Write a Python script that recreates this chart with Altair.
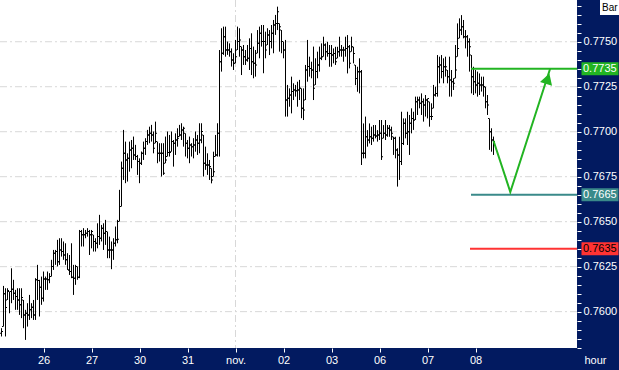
import altair as alt
import pandas as pd

# ---------------- hourly OHLC bars ----------------
HIGH = [
    0.75908, 0.76143, 0.7613, 0.7613, 0.76112, 0.76241, 0.76177, 0.76121, 0.7613, 0.7613,
    0.7613, 0.76065, 0.7601, 0.76047, 0.76093, 0.76047, 0.76065, 0.76186, 0.7626, 0.76177,
    0.76195, 0.76223, 0.76195, 0.76223, 0.76214, 0.76288, 0.76343, 0.76343, 0.76399, 0.76408,
    0.76408, 0.7639, 0.7638, 0.76325, 0.76315, 0.7638, 0.7626, 0.7626, 0.76251, 0.76454,
    0.76454, 0.76464, 0.76454, 0.76464, 0.76454, 0.76454, 0.76427, 0.76408, 0.76491, 0.76538,
    0.76482, 0.76491, 0.7651, 0.76445, 0.76417, 0.7639, 0.76408, 0.76473, 0.7651, 0.76677,
    0.76834, 0.7701, 0.76945, 0.7688, 0.76945, 0.76954, 0.76973, 0.76927, 0.76871, 0.76852,
    0.7689, 0.76945, 0.76964, 0.7701, 0.77028, 0.77038, 0.77001, 0.77056, 0.76945, 0.76936,
    0.76936,
    0.76936, 0.76973, 0.77001, 0.76982, 0.77001, 0.76954, 0.76991, 0.77019, 0.77038, 0.77047,
    0.77028, 0.76991, 0.76954, 0.76973, 0.76936, 0.76964, 0.77001, 0.76982, 0.77047, 0.77047,
    0.76982, 0.76917, 0.7688, 0.76843, 0.76797, 0.76889, 0.76982, 0.77047, 0.77454, 0.77575,
    0.77584, 0.77584, 0.77501, 0.77491, 0.77463, 0.77436, 0.7751, 0.77584, 0.77575,
    0.77473, 0.77482, 0.77454, 0.77482, 0.77519, 0.77547, 0.77473, 0.77454, 0.77565, 0.77584,
    0.77593, 0.77593, 0.77556, 0.77575, 0.77565, 0.77593, 0.77621, 0.77649, 0.77695, 0.77602,
    0.77565, 0.77501, 0.7751, 0.7726, 0.77241, 0.77306, 0.77269, 0.7726, 0.77278, 0.77288,
    0.77241, 0.77241, 0.77371, 0.7751, 0.77417, 0.77389, 0.77473, 0.77408, 0.77445, 0.77473,
    0.77491, 0.77528, 0.77491, 0.775, 0.77482, 0.77482, 0.77463, 0.77472, 0.77472, 0.77528,
    0.77482, 0.77472, 0.77528, 0.77537, 0.77482, 0.77528, 0.77472, 0.77371, 0.77361, 0.77408,
    0.77343, 0.77046, 0.77084, 0.77009, 0.77046, 0.77028, 0.77037, 0.77037, 0.77009, 0.77065,
    0.77065, 0.77037, 0.77065, 0.77037, 0.77037, 0.77028, 0.76972, 0.76972, 0.76908, 0.76972,
    0.77111, 0.77074, 0.77074, 0.77111, 0.77093, 0.7713, 0.77111, 0.77195, 0.77195, 0.77195,
    0.77213, 0.77185, 0.77204, 0.77185, 0.77167, 0.77158, 0.7726, 0.7725, 0.77426, 0.77417,
    0.77426, 0.77408, 0.77417, 0.77343, 0.77417, 0.77343, 0.77297, 0.77482, 0.77602, 0.7763,
    0.77648, 0.77621, 0.77565, 0.77537, 0.77519, 0.77426, 0.77361, 0.77343, 0.77334, 0.77324,
    0.77306, 0.77306, 0.7725, 0.77204, 0.77074, 0.77019, 0.76973,
]
LOW = [
    0.75862, 0.75917, 0.75862, 0.76065, 0.75991, 0.76047, 0.76065, 0.7601, 0.7601, 0.75982,
    0.75964, 0.75908, 0.75843, 0.75917, 0.75954, 0.75964, 0.75954, 0.75954, 0.76065, 0.75973,
    0.76038, 0.76056, 0.76121, 0.76121, 0.76158, 0.76195, 0.76232, 0.7626, 0.76251, 0.7626,
    0.76306, 0.76288, 0.7626, 0.76232, 0.76204, 0.76186, 0.76093, 0.76149, 0.76177, 0.76186,
    0.76362, 0.76362, 0.76408, 0.76417, 0.76315, 0.76352, 0.76334, 0.76334, 0.76352, 0.76371,
    0.7639, 0.76343, 0.76371, 0.76297, 0.76297, 0.76236, 0.76288, 0.76362, 0.7638, 0.76501,
    0.76584, 0.76732, 0.76714, 0.76723, 0.76778, 0.76797, 0.76843, 0.76843, 0.7676, 0.76714,
    0.76815, 0.76843, 0.76871, 0.76927, 0.76936, 0.76945, 0.7688, 0.76936, 0.76825, 0.76834,
    0.76751,
    0.7676, 0.76825, 0.76862, 0.76862, 0.76889, 0.76806, 0.76871, 0.76917, 0.76973, 0.76954,
    0.76917, 0.76862, 0.76852, 0.76825, 0.76862, 0.76852, 0.76889, 0.76871, 0.7688, 0.76936,
    0.76751, 0.76788, 0.7676, 0.76732, 0.76713, 0.76751, 0.76862, 0.76862, 0.76862, 0.77334,
    0.77427, 0.77417, 0.77427, 0.77417, 0.77362, 0.77343, 0.7738, 0.77454, 0.77417,
    0.77315, 0.77371, 0.77371, 0.77389, 0.77343, 0.77315, 0.77297, 0.77306, 0.77436, 0.77408,
    0.77473, 0.77325, 0.77408, 0.77482, 0.77426, 0.77463, 0.77436, 0.77538, 0.77565, 0.77445,
    0.77436, 0.77408, 0.77084, 0.77084, 0.77139, 0.77102, 0.77176, 0.77195, 0.77139, 0.77176,
    0.77075, 0.77065, 0.77176, 0.77278, 0.77306, 0.77297, 0.77176, 0.7726, 0.77297, 0.77334,
    0.77398, 0.77417, 0.77398, 0.77417, 0.77361, 0.77361, 0.7738, 0.77371, 0.77408, 0.77417,
    0.77417, 0.77389, 0.77417, 0.77324, 0.77352, 0.77445, 0.7738, 0.77259, 0.77222, 0.77213,
    0.76815, 0.76852, 0.76852, 0.76917, 0.76935, 0.76926, 0.76945, 0.76963, 0.76945, 0.76954,
    0.76843, 0.76963, 0.76954, 0.76972, 0.76972, 0.76954, 0.76871, 0.76852, 0.76695, 0.76732,
    0.76815, 0.76926, 0.76963, 0.76926, 0.76871, 0.76991, 0.7701, 0.77065, 0.77093, 0.7713,
    0.77093, 0.77056, 0.77084, 0.77074, 0.77028, 0.77065, 0.7713, 0.77195, 0.77195, 0.77269,
    0.77297, 0.77269, 0.77306, 0.77269, 0.77195, 0.77195, 0.77232, 0.77297, 0.77417, 0.77519,
    0.77537, 0.77519, 0.77463, 0.77417, 0.77334, 0.77213, 0.77204, 0.77213, 0.77195, 0.77204,
    0.77223, 0.77195, 0.7713, 0.77093, 0.76899, 0.76889, 0.76871,
]
OPEN = [
    0.7588, 0.75917, 0.76099, 0.76065, 0.76112, 0.76112, 0.76125, 0.76102, 0.76084, 0.76065,
    0.76038, 0.76065, 0.75982, 0.75991, 0.75982, 0.7601, 0.76025, 0.75982, 0.76177, 0.76173,
    0.76136, 0.76075, 0.76182, 0.76182, 0.76177, 0.76195, 0.76251, 0.76325, 0.76334, 0.76278,
    0.76343, 0.76334, 0.76315, 0.76288, 0.76232, 0.76223, 0.76191, 0.76186, 0.76251, 0.76191,
    0.76445, 0.76427, 0.76427, 0.76436, 0.76445, 0.76427, 0.76427, 0.7639, 0.7638, 0.76417,
    0.76408, 0.76464, 0.76436, 0.76445, 0.76343, 0.76343, 0.76343, 0.7638, 0.76399, 0.76501,
    0.76584, 0.76797, 0.7688, 0.76843, 0.76852, 0.76899, 0.76908, 0.76871, 0.76862, 0.76834,
    0.76825, 0.7688, 0.76908, 0.76945, 0.76982, 0.76991, 0.76982, 0.76936, 0.76945, 0.7688,
    0.7688,
    0.7688, 0.76825, 0.76862, 0.76884, 0.76889, 0.76945, 0.76936, 0.76954, 0.76973, 0.76982,
    0.7701, 0.76991, 0.76936, 0.76908, 0.76926, 0.76917, 0.76926, 0.76954, 0.76936, 0.76954,
    0.76982, 0.76825, 0.76815, 0.76815, 0.76797, 0.76751, 0.76862, 0.76871, 0.76991, 0.77389,
    0.77436, 0.77528, 0.77454, 0.77454, 0.77445, 0.77399, 0.7738, 0.77454, 0.77501,
    0.77473, 0.77454, 0.77417, 0.77399, 0.77408, 0.77463, 0.77389, 0.7738, 0.77436, 0.77491,
    0.77547, 0.77501, 0.77501, 0.77482, 0.77538, 0.77501, 0.77547, 0.77593, 0.77602, 0.77602,
    0.77565, 0.77501, 0.77454, 0.77176, 0.77186, 0.77204, 0.77223, 0.77232, 0.77228, 0.77232,
    0.77241, 0.7713, 0.77176, 0.77343, 0.77362, 0.77352, 0.77343, 0.7726, 0.77334, 0.77371,
    0.77408, 0.77417, 0.77482, 0.77445, 0.77435, 0.77435, 0.77426, 0.77435, 0.77408, 0.77445,
    0.77454, 0.77454, 0.77454, 0.77463, 0.77472, 0.77445, 0.77472, 0.77371, 0.77296, 0.77333,
    0.77333, 0.7688, 0.7688, 0.76972, 0.76954, 0.76972, 0.76963, 0.76982, 0.76976, 0.76982,
    0.76991, 0.76963, 0.76991, 0.76982, 0.77019, 0.77009, 0.76972, 0.76963, 0.76898, 0.76871,
    0.76834, 0.76935, 0.77047, 0.76991, 0.77, 0.77047, 0.77074, 0.77065, 0.77167, 0.77176,
    0.77158, 0.77167, 0.77148, 0.77176, 0.77167, 0.77084, 0.7713, 0.77204, 0.77213, 0.77361,
    0.77371, 0.77334, 0.77361, 0.77343, 0.77306, 0.77287, 0.77278, 0.77297, 0.77417, 0.77519,
    0.77565, 0.77584, 0.77528, 0.77528, 0.775, 0.77426, 0.77306, 0.77278, 0.7726, 0.77269,
    0.7726, 0.7726, 0.7725, 0.77167, 0.77074, 0.77, 0.76954,
]
CLOSE = [
    0.7589, 0.76099, 0.76023, 0.76117, 0.76112, 0.76125, 0.76102, 0.76084, 0.76065, 0.76038,
    0.76078, 0.75982, 0.75991, 0.75982, 0.7601, 0.76025, 0.75982, 0.76177, 0.76173, 0.76136,
    0.76075, 0.76182, 0.76182, 0.76177, 0.76195, 0.76251, 0.76325, 0.76334, 0.76278, 0.76343,
    0.76334, 0.76315, 0.76288, 0.76232, 0.76223, 0.76191, 0.76186, 0.76251, 0.76191, 0.76445,
    0.76427, 0.76427, 0.76436, 0.76445, 0.76427, 0.76445, 0.7639, 0.7638, 0.76417, 0.76408,
    0.76464, 0.76436, 0.76445, 0.76343, 0.76343, 0.76343, 0.7638, 0.76399, 0.76402, 0.76584,
    0.76797, 0.7688, 0.76843, 0.76852, 0.76899, 0.76908, 0.76871, 0.76862, 0.76834, 0.76825,
    0.7688, 0.76908, 0.76945, 0.76982, 0.76991, 0.76982, 0.76908, 0.76991, 0.7688, 0.7688,
    0.7688,
    0.76769, 0.76843, 0.76884, 0.76884, 0.76945, 0.76936, 0.76954, 0.76963, 0.76982, 0.7701,
    0.77019, 0.76936, 0.76908, 0.76926, 0.76917, 0.76926, 0.76954, 0.76936, 0.76954, 0.77001,
    0.76825, 0.76815, 0.76815, 0.76806, 0.76732, 0.76778, 0.76871, 0.76991, 0.77389, 0.77436,
    0.77528, 0.77454, 0.77454, 0.77445, 0.77399, 0.7738, 0.77417, 0.77501, 0.7751,
    0.77454, 0.77417, 0.77399, 0.77408, 0.77463, 0.77389, 0.7738, 0.77371, 0.77491, 0.77547,
    0.77501, 0.77501, 0.77454, 0.77538, 0.77501, 0.77547, 0.77593, 0.77602, 0.77667, 0.77584,
    0.77501, 0.77454, 0.77176, 0.77186, 0.77204, 0.77223, 0.77232, 0.77228, 0.77232, 0.77241,
    0.7713, 0.77121, 0.77343, 0.77362, 0.77352, 0.77343, 0.77241, 0.77334, 0.77371, 0.77408,
    0.77417, 0.77482, 0.77445, 0.77435, 0.77435, 0.77426, 0.77435, 0.77389, 0.77445, 0.77454,
    0.77454, 0.77454, 0.77463, 0.77472, 0.7738, 0.77472, 0.77435, 0.77296, 0.77333, 0.77333,
    0.7688, 0.7688, 0.76972, 0.76954, 0.76972, 0.76963, 0.76982, 0.76976, 0.76982, 0.76991,
    0.76861, 0.76991, 0.76982, 0.77019, 0.77009, 0.76991, 0.76963, 0.76898, 0.76871, 0.76834,
    0.76935, 0.77047, 0.76991, 0.77, 0.77047, 0.77074, 0.77065, 0.77167, 0.77176, 0.77158,
    0.77167, 0.77148, 0.77176, 0.77185, 0.77084, 0.77084, 0.77204, 0.77213, 0.77361, 0.77371,
    0.77334, 0.77361, 0.77361, 0.77306, 0.77287, 0.77278, 0.77269, 0.77343, 0.77463, 0.77565,
    0.77584, 0.77528, 0.77528, 0.775, 0.77472, 0.77306, 0.77278, 0.7726, 0.77269, 0.7726,
    0.7726, 0.7725, 0.77167, 0.77148, 0.77, 0.76954, 0.76945,
]
assert len(HIGH) == len(LOW) == len(OPEN) == len(CLOSE)

# ---------------- axis ticks / labels ----------------
DAY_TICKS = [21, 45, 69, 93, 117, 141, 165, 189, 213, 237]   # hour index of each day start
DAY_LABELS = ["26", "27", "30", "31", "nov.", "02", "03", "06", "07", "08"]
MONTH_LINE = [117]
Y_LABELS = [0.7600, 0.7625, 0.7650, 0.7675, 0.7700, 0.7725, 0.7750]
Y_MINOR = [round(0.7580 + 0.0005 * k, 4) for k in range(39)]

# ---------------- projection annotations ----------------
LEVEL_VALUES = [0.7735, 0.7665, 0.7635]
LEVEL_COLORS = ["#22b422", "#3a8a8a", "#ff3333"]
LEVEL_TEXT = ["#ffffff", "#ffffff", "#000000"]
LEVEL_START = [234.75, 234.75, 234.25]
LEVEL_END = [287.75, 287.75, 287.75]
PATH_X = [246, 254.4, 274.3]
PATH_Y = [0.7695, 0.76665, 0.7735]
ARROW_X = [273.1]
ARROW_Y = [0.77295]

NAVY = "#021a60"
GRID = "#d8d8d8"
FONT = "Liberation Sans"

X_DOMAIN = [-0.75, 287.75]
Y_DOMAIN = [0.75798, 0.77732]
xs = alt.Scale(domain=X_DOMAIN, nice=False, zero=False)
ys = alt.Scale(domain=Y_DOMAIN, nice=False, zero=False)

bars = pd.DataFrame({"i": list(range(len(HIGH))), "high": HIGH, "low": LOW,
                     "open": OPEN, "close": CLOSE})

js_ticks = "[" + ",".join(str(t) for t in DAY_TICKS) + "]"
js_labels = "[" + ",".join("'" + l + "'" for l in DAY_LABELS) + "]"

x_axis = alt.Axis(values=DAY_TICKS, labelExpr=f"{js_labels}[indexof({js_ticks}, datum.value)]",
                  domain=False, grid=False, ticks=True, tickColor="white", tickSize=4,
                  tickWidth=1, labelColor="white", labelFont=FONT, labelFontSize=11,
                  labelPadding=2, labelFlush=False, labelOverlap=False,
                  title="hour", titleX=595, titleY=12, titleBaseline="middle",
                  titleAlign="center", titleColor="white", titleFont=FONT,
                  titleFontSize=11, titleFontWeight="normal")
y_axis = alt.Axis(orient="right", values=Y_MINOR,
                  labelExpr="abs(datum.value*400 - round(datum.value*400)) < 0.001 ? format(datum.value, '.4f') : ''",
                  domain=False, grid=False, tickColor="white", tickSize=4, tickWidth=1,
                  labelColor="white", labelFont=FONT, labelFontSize=11, labelPadding=2,
                  labelFlush=False, labelOverlap=False, title=None)


def X(field):
    return alt.X(field, scale=xs, axis=x_axis)


def Y(field):
    return alt.Y(field, scale=ys, axis=y_axis)


grid_h = alt.Chart(pd.DataFrame({"v": Y_LABELS})).mark_rule(
    color=GRID, strokeWidth=1, strokeDash=[7, 3, 2, 3]
).encode(y=Y("v:Q"))

grid_v = alt.Chart(pd.DataFrame({"i": MONTH_LINE})).mark_rule(
    color=GRID, strokeWidth=1, strokeDash=[7, 3, 2, 3]
).encode(x=X("i:Q"))

hl = alt.Chart(bars).mark_rule(color="black", strokeWidth=1).encode(
    x=X("i:Q"), y=Y("low:Q"), y2="high:Q")
op = alt.Chart(bars).mark_tick(orient="horizontal", size=1, thickness=1, xOffset=-1,
                               color="black", opacity=1).encode(x=X("i:Q"), y=Y("open:Q"))
cl = alt.Chart(bars).mark_tick(orient="horizontal", size=1, thickness=1, xOffset=1,
                               color="black", opacity=1).encode(x=X("i:Q"), y=Y("close:Q"))

levels = pd.DataFrame({"v": LEVEL_VALUES, "start": LEVEL_START, "end": LEVEL_END,
                       "c": LEVEL_COLORS, "tc": LEVEL_TEXT,
                       "label": [f"{v:.4f}" for v in LEVEL_VALUES]})
lvl = alt.Chart(levels).mark_rule(strokeWidth=2).encode(
    x=X("start:Q"), x2="end:Q", y=Y("v:Q"), color=alt.Color("c:N", scale=None))

path = pd.DataFrame({"x": PATH_X, "y": PATH_Y, "o": [0, 1, 2]})
vline = alt.Chart(path).mark_line(color="#22b422", strokeWidth=2).encode(
    x=X("x:Q"), y=Y("y:Q"), order=alt.Order("o:Q"))
arrow = alt.Chart(pd.DataFrame({"x": ARROW_X, "y": ARROW_Y})).mark_point(
    shape="triangle-up", size=160, angle=18, filled=True, color="#22b422", opacity=1
).encode(x=X("x:Q"), y=Y("y:Q"))

boxes = alt.Chart(levels).mark_tick(orient="horizontal", size=37, thickness=13, opacity=1).encode(
    x=alt.value(600), y=Y("v:Q"), color=alt.Color("c:N", scale=None))
texts = alt.Chart(levels).mark_text(align="left", baseline="middle", font=FONT, fontSize=11).encode(
    x=alt.value(583), y=Y("v:Q"), text="label:N", color=alt.Color("tc:N", scale=None))

bar_box = alt.Chart(pd.DataFrame({"t": ["Bar"]})).mark_rect(color="white").encode(
    x=alt.value(600), x2=alt.value(620), y=alt.value(0), y2=alt.value(15))
bar_text = alt.Chart(pd.DataFrame({"t": ["Bar"]})).mark_text(
    align="left", baseline="middle", font=FONT, fontSize=10, color="black"
).encode(x=alt.value(602), y=alt.value(8), text="t:N")

chart = alt.layer(
    grid_h, grid_v, hl, op, cl, lvl, vline, arrow, boxes, texts, bar_box, bar_text
).properties(
    width=577, height=348,
    autosize=alt.AutoSizeParams(type="none"),
    padding={"left": 0, "top": 0, "right": 42, "bottom": 22},
    background=NAVY,
).configure_view(stroke=None, fill="white")

chart.save("out.html", embed_options={"renderer": "svg", "actions": False})
